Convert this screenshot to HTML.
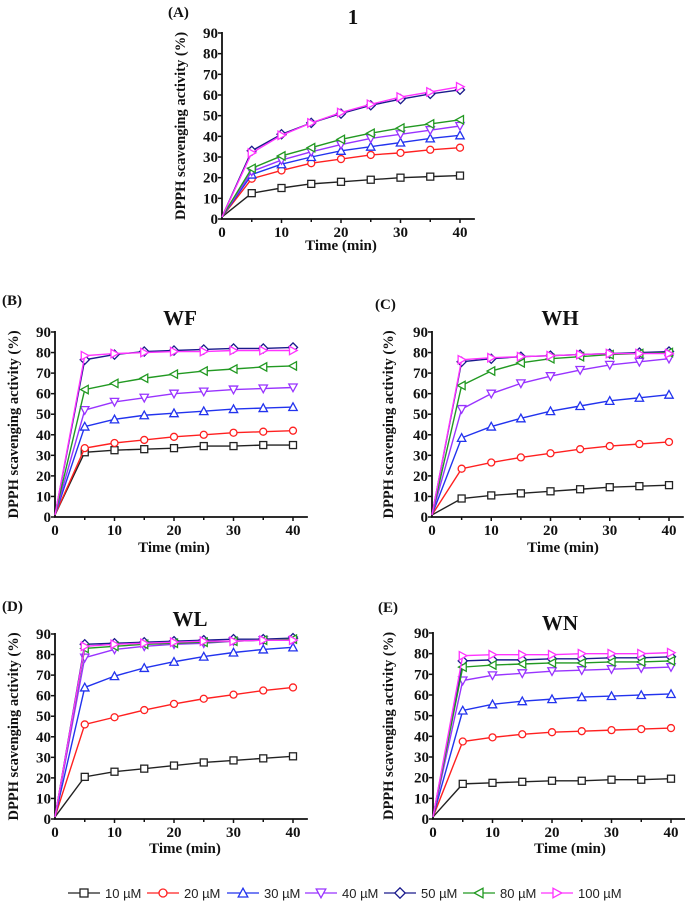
<!DOCTYPE html>
<html><head><meta charset="utf-8"><style>
html,body{margin:0;padding:0;background:#fff;}
svg{display:block;}
text{font-family:"Liberation Serif",serif;font-weight:bold;fill:#111;}
.leg{font-family:"Liberation Sans",sans-serif;font-weight:normal;font-size:13px;fill:#222;}
</style></head><body>
<svg id="chart" width="685" height="912" viewBox="0 0 685 912" xmlns="http://www.w3.org/2000/svg"></svg>
<script>
const times = [0,5,10,15,20,25,30,35,40];
const seriesNames = ["10 µM","20 µM","30 µM","40 µM","50 µM","80 µM","100 µM"];
const seriesColors = ["#222222","#ff2020","#2233ee","#9933ff","#1a1a8c","#229922","#ff33ff"];
const seriesMarkers = ["square","circle","up","down","diamond","left","right"];
const yTicks = [0,10,20,30,40,50,60,70,80,90];
const xTicks = [0,10,20,30,40];
const panelTitles = ["1","WF","WH","WL","WN"];
const panelLetters = ["(A)","(B)","(C)","(D)","(E)"];
const dataA = [
 [1,12.5,15,17,18,19,20,20.5,21],
 [1,19.5,23.5,27,29,31,32,33.5,34.5],
 [1,21.5,26.5,30,33,35,37,39,40.5],
 [1,23,28.5,32.5,36,39,41,43,45],
 [1,33,41,46.5,51,55,58,60.5,62.5],
 [1,24.5,30.5,34.5,38.5,41.5,44,46,48],
 [1,32,40.5,46.5,51.5,55.5,59,61.5,64]];
const dataB = [
 [1,31.5,32.5,33,33.5,34.5,34.5,35,35],
 [1,33.5,36,37.5,39,40,41,41.5,42],
 [1,44,47.5,49.5,50.5,51.5,52.5,53,53.5],
 [1,52,56,58,60,61,62,62.5,63],
 [1,76.5,79,80.5,81,81.5,82,82,82.5],
 [1,62,65,67.5,69.5,71,72,73,73.5],
 [1,78.5,79.5,80,80.5,80.5,81,81,81]];
const dataC = [
 [1,9,10.5,11.5,12.5,13.5,14.5,15,15.5],
 [1,23.5,26.5,29,31,33,34.5,35.5,36.5],
 [1,38.5,44,48,51.5,54,56.5,58,59.5],
 [1,52.5,60,65,68.5,71.5,74,75.5,77],
 [1,75.5,77,78,78.5,79,79.5,80,80.5],
 [1,64,71,75,77,78,79,79.5,80],
 [1,76.5,77.5,78,78.5,79,79.5,79.5,79.5]];
const dataD = [
 [1,20.5,23,24.5,26,27.5,28.5,29.5,30.5],
 [1,46,49.5,53,56,58.5,60.5,62.5,64],
 [1,64,69.5,73.5,76.5,79,81,82.5,83.5],
 [1,78.5,82.5,84,85,85.5,86.5,87,87],
 [1,85,85.5,86,86.5,87,87.5,87.5,88],
 [1,83,84,85,85.5,86,86.5,87,87.5],
 [1,84,85,85.5,86,86.5,86.5,87,87]];
const dataE = [
 [1,17,17.5,18,18.5,18.5,19,19,19.5],
 [1,37.5,39.5,41,42,42.5,43,43.5,44],
 [1,52.5,55.5,57,58,59,59.5,60,60.5],
 [1,67,69.5,70.5,71.5,72,72.5,73,73.5],
 [1,76.5,77,77,77.5,77.5,78,78,78.5],
 [1,73.5,74.5,75,75.5,75.5,76,76,76.5],
 [1,79,79.5,79.5,79.5,80,80,80,80.5]];
const panelData = [dataA,dataB,dataC,dataD,dataE];

const layouts = [
 {x0:222,x1:460,y0:219,y1:33, tx:353,ty:24, lx:168,ly:17, yl:180, xl:341,xly:250},
 {x0:55,x1:293,y0:517,y1:332, tx:180,ty:325, lx:2,ly:305, yl:13, xl:174,xly:552},
 {x0:432,x1:669,y0:517,y1:332, tx:560,ty:325, lx:375,ly:309, yl:388, xl:563,xly:552},
 {x0:55,x1:293,y0:819,y1:634, tx:190,ty:626, lx:2,ly:611, yl:13, xl:185,xly:853},
 {x0:433,x1:671,y0:819,y1:633, tx:560,ty:630, lx:378,ly:612, yl:388, xl:570,xly:853}];
const svg = document.getElementById('chart');
const NS = 'http://www.w3.org/2000/svg';
function mk(tag, attrs, parent){const e=document.createElementNS(NS,tag);for(const k in attrs)e.setAttribute(k,attrs[k]);(parent||svg).appendChild(e);return e;}
function marker(g,type,cx,cy,color,s){
 let e;
 if(type==='square') e=mk('rect',{x:cx-s,y:cy-s,width:2*s,height:2*s},g);
 else if(type==='circle') e=mk('circle',{cx:cx,cy:cy,r:s},g);
 else {
  let p;
  if(type==='up') p=[[cx,cy-s*1.2],[cx-s*1.2,cy+s],[cx+s*1.2,cy+s]];
  else if(type==='down') p=[[cx,cy+s*1.2],[cx-s*1.2,cy-s],[cx+s*1.2,cy-s]];
  else if(type==='diamond') p=[[cx,cy-s*1.3],[cx+s*1.3,cy],[cx,cy+s*1.3],[cx-s*1.3,cy]];
  else if(type==='left') p=[[cx-s*1.2,cy],[cx+s,cy-s*1.2],[cx+s,cy+s*1.2]];
  else p=[[cx+s*1.2,cy],[cx-s,cy-s*1.2],[cx-s,cy+s*1.2]];
  e=mk('polygon',{points:p.map(q=>q.join(',')).join(' ')},g);
 }
 e.setAttribute('fill','#fff');e.setAttribute('stroke',color);e.setAttribute('stroke-width','1.3');
 return e;
}
panelData.forEach((data,pi)=>{
 const L=layouts[pi];
 const xs=v=>L.x0+(L.x1-L.x0)*v/40;
 const ys=v=>L.y0+(L.y1-L.y0)*v/90;
 const g=mk('g',{});
 
 
 const lt=mk('text',{x:L.lx,y:L.ly,'font-size':'15'},g);lt.textContent=panelLetters[pi];
 
 const tt=mk('text',{x:L.tx,y:L.ty,'font-size':'21','text-anchor':'middle'},g);tt.textContent=panelTitles[pi];
 
 const ax=mk('path',{d:`M${L.x0},${ys(90)-1} V${L.y0} H${xs(42.5)}`,stroke:'#111','stroke-width':'1.8',fill:'none'},g);
 
 yTicks.forEach(t=>{
  mk('line',{x1:L.x0-4,x2:L.x0,y1:ys(t),y2:ys(t),stroke:'#111','stroke-width':'1.5'},g);
  const tx=mk('text',{x:L.x0-4,y:ys(t)+5,'font-size':'15','text-anchor':'end'},g);tx.textContent=t;
  
 });
 for(let m=5;m<=40;m+=5){mk('line',{x1:xs(m),x2:xs(m),y1:L.y0,y2:L.y0+(m%10?3:4),stroke:'#111','stroke-width':'1.5'},g);}
 xTicks.forEach(t=>{
  const tx=mk('text',{x:xs(t),y:L.y0+18,'font-size':'15','text-anchor':'middle'},g);tx.textContent=t;
  
 });
 const yl=mk('text',{x:0,y:0,'font-size':'14.5','text-anchor':'middle',transform:`translate(${L.yl+5},${(L.y0+L.y1)/2}) rotate(-90)`},g);
 yl.textContent='DPPH  scavenging activity (%)';yl.setAttribute('xml:space','preserve');
 
 const xl=mk('text',{x:L.xl,y:L.xly,'font-size':'15','text-anchor':'middle'},g);xl.textContent='Time (min)';
 
 data.forEach((vals,si)=>{
  const sg=mk('g',{},g);
  
  
  const pl=mk('polyline',{points:vals.map((v,i)=>xs(times[i])+','+ys(v)).join(' '),fill:'none',stroke:seriesColors[si],'stroke-width':'1.4'},sg);
  
  vals.forEach((v,i)=>{ if(i===0) return;
   const mm=marker(sg,seriesMarkers[si],xs(times[i]),ys(v),seriesColors[si],3.5);
   
  });
 });
});
const legX=[68,147,227,305,384,463,541];
const lg=mk('g',{});


seriesNames.forEach((n,i)=>{
 const eg=mk('g',{},lg);
 
 
 const x=legX[i];
 mk('line',{x1:x,x2:x+32,y1:893,y2:893,stroke:seriesColors[i],'stroke-width':'1.3'},eg);
 marker(eg,seriesMarkers[i],x+16,893,seriesColors[i],4);
 const t=mk('text',{x:x+37,y:898,class:'leg'},eg);t.textContent=n;
});
</script>
</body></html>
